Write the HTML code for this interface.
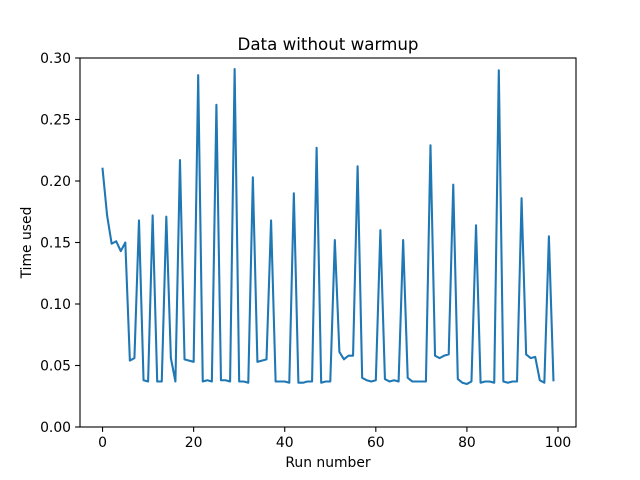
<!DOCTYPE html>
<html><head><meta charset="utf-8"><style>
html,body{margin:0;padding:0;background:#fff;}
svg{display:block;font-family:"DejaVu Sans","Liberation Sans",sans-serif;}
</style></head><body>
<svg id="chart" width="640" height="480" viewBox="0 0 640 480">
<rect x="0" y="0" width="640" height="480" fill="#fff"/>
<text x="328" y="50" font-size="16.7" text-anchor="middle">Data without warmup</text>
<g id="xticks"></g>
<g id="yticks"></g>
<path id="series" fill="none" stroke="#1f77b4" stroke-width="2.08" stroke-linejoin="round" stroke-linecap="square"/>
<rect x="80" y="58" width="496" height="369" fill="none" stroke="#000" stroke-width="1.1"/>
<text x="328" y="467" font-size="13.9" text-anchor="middle">Run number</text>
<text x="0" y="0" font-size="13.9" text-anchor="middle" transform="translate(31,242.5) rotate(-90)">Time used</text>
</svg>
<script>
const times = [0.210,0.172,0.149,0.151,0.143,0.150,0.054,0.056,0.168,0.038,
0.037,0.172,0.037,0.037,0.171,0.056,0.037,0.217,0.055,0.054,
0.053,0.286,0.037,0.038,0.037,0.262,0.038,0.038,0.037,0.291,
0.037,0.037,0.036,0.203,0.053,0.054,0.055,0.168,0.037,0.037,
0.037,0.036,0.190,0.036,0.036,0.037,0.037,0.227,0.036,0.037,
0.037,0.152,0.061,0.055,0.058,0.058,0.212,0.040,0.038,0.037,
0.038,0.160,0.039,0.037,0.038,0.037,0.152,0.040,0.037,0.037,
0.037,0.037,0.229,0.058,0.056,0.058,0.059,0.197,0.039,0.036,
0.035,0.037,0.164,0.036,0.037,0.037,0.036,0.290,0.037,0.036,
0.037,0.037,0.186,0.059,0.056,0.057,0.038,0.036,0.155,0.038];
const xTickLabels = ["0","20","40","60","80","100"];
const xTickValues = [0,20,40,60,80,100];
const yTickValues = [0,0.05,0.10,0.15,0.20,0.25,0.30];
const yTickLabels = ["0.00","0.05","0.10","0.15","0.20","0.25","0.30"];

const NS="http://www.w3.org/2000/svg";
const L=80,R=576,T=58,B=427;
const xmin=-4.95,xmax=103.95,ymin=0,ymax=0.30;
function xs(v){return L+(v-xmin)/(xmax-xmin)*(R-L);}
function ys(v){return B-(v-ymin)/(ymax-ymin)*(B-T);}

let d="";
times.forEach((v,i)=>{d+=(i?"L":"M")+xs(i).toFixed(2)+","+ys(v).toFixed(2);});
document.getElementById("series").setAttribute("d",d);

const xg=document.getElementById("xticks");
xTickValues.forEach((v,i)=>{
  const x=xs(v);
  const ln=document.createElementNS(NS,"line");
  ln.setAttribute("x1",x);ln.setAttribute("x2",x);ln.setAttribute("y1",B);ln.setAttribute("y2",B+4.9);
  ln.setAttribute("stroke","#000");ln.setAttribute("stroke-width","1.1");
  
  
  xg.appendChild(ln);
  const t=document.createElementNS(NS,"text");
  t.setAttribute("x",x);t.setAttribute("y",B+20);t.setAttribute("font-size","13.9");t.setAttribute("text-anchor","middle");
  t.textContent=xTickLabels[i];
  
  
  xg.appendChild(t);
});
const yg=document.getElementById("yticks");
yTickValues.forEach((v,i)=>{
  const y=ys(v);
  const ln=document.createElementNS(NS,"line");
  ln.setAttribute("x1",L-4.9);ln.setAttribute("x2",L);ln.setAttribute("y1",y);ln.setAttribute("y2",y);
  ln.setAttribute("stroke","#000");ln.setAttribute("stroke-width","1.1");
  
  
  yg.appendChild(ln);
  const t=document.createElementNS(NS,"text");
  t.setAttribute("x",L-9);t.setAttribute("y",y+5);t.setAttribute("font-size","13.9");t.setAttribute("text-anchor","end");
  t.textContent=yTickLabels[i];
  
  
  yg.appendChild(t);
});
</script>
</body></html>
